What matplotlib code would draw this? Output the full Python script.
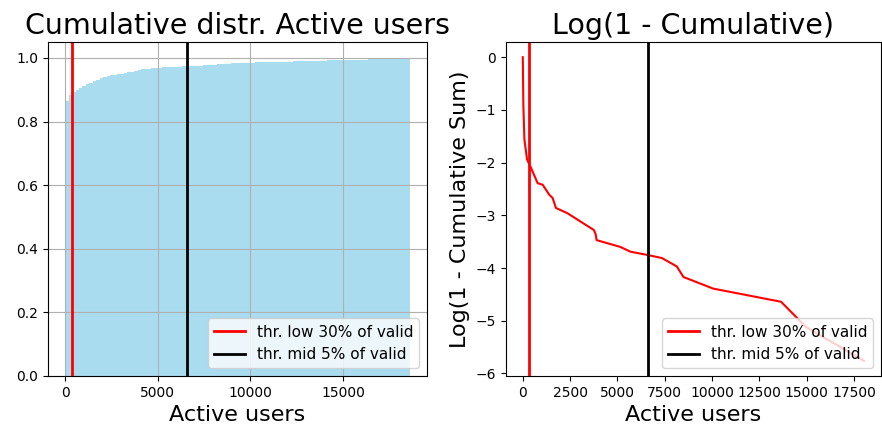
import numpy as np
import matplotlib
matplotlib.use("Agg")
import matplotlib.pyplot as plt
from matplotlib.ticker import MultipleLocator

# Cumulative share of entries per bin of active users (100 equal-width bins)
bin_width = 186
cum_share = [
    0.865, 0.882, 0.893, 0.900, 0.906, 0.912, 0.917, 0.922, 0.927, 0.932,
    0.936, 0.940, 0.943, 0.945, 0.947, 0.949, 0.951, 0.953, 0.955, 0.957,
    0.959, 0.963, 0.964, 0.965, 0.966, 0.967, 0.968, 0.969, 0.970, 0.971,
    0.972, 0.972, 0.973, 0.973, 0.974, 0.974, 0.975, 0.975, 0.976, 0.976,
    0.977, 0.977, 0.978, 0.979, 0.980, 0.981, 0.982, 0.982, 0.983, 0.983,
    0.984, 0.984, 0.985, 0.985, 0.985, 0.986, 0.986, 0.986, 0.987, 0.987,
    0.987, 0.987, 0.988, 0.988, 0.988, 0.988, 0.989, 0.989, 0.989, 0.989,
    0.990, 0.990, 0.990, 0.990, 0.991, 0.991, 0.992, 0.992, 0.993, 0.993,
    0.993, 0.994, 0.994, 0.994, 0.995, 0.995, 0.995, 0.995, 0.996, 0.996,
    0.996, 0.996, 0.997, 0.997, 0.997, 0.998, 0.998, 0.998, 0.999, 1.000,
]

# log(1 - cumulative sum) against active users
log_users = [0, 30, 85, 225, 435, 785, 1050, 1400, 1575, 1750, 2360, 3060,
             3760, 3850, 3900, 5160, 5690, 6560, 7350, 8140, 8490, 10060,
             13650, 14970, 18030]
log_tail = [0.0, -0.92, -1.56, -1.94, -2.10, -2.39, -2.42, -2.61, -2.67,
            -2.86, -2.96, -3.12, -3.28, -3.36, -3.47, -3.60, -3.69, -3.75,
            -3.81, -3.97, -4.17, -4.39, -4.64, -5.12, -5.76]

thr_low = 350
thr_mid = 6600
thr_labels = ["thr. low 30% of valid", "thr. mid 5% of valid"]

fig = plt.figure(figsize=(8.82, 4.30), dpi=100)
ax1 = fig.add_axes([0.0544, 0.1256, 0.4297, 0.7767])
ax2 = fig.add_axes([0.5734, 0.1256, 0.4255, 0.7767])

# Left: cumulative distribution histogram
edges = np.arange(len(cum_share)) * bin_width
ax1.bar(edges, cum_share, width=bin_width, align="edge",
        color="skyblue", alpha=0.7, linewidth=0)
ax1.axvline(thr_low, color="red", lw=2, label=thr_labels[0])
ax1.axvline(thr_mid, color="black", lw=2, label=thr_labels[1])
ax1.grid(True)
ax1.xaxis.set_major_locator(MultipleLocator(5000))
ax1.set_title("Cumulative distr. Active users", fontsize=20.5)
ax1.set_xlabel("Active users", fontsize=16)
ax1.legend(loc="lower right", fontsize=11)

# Right: log of the complementary cumulative sum
ax2.plot(log_users, log_tail, color="red", lw=1.5)
ax2.axvline(thr_low, color="red", lw=2, label=thr_labels[0])
ax2.axvline(thr_mid, color="black", lw=2, label=thr_labels[1])
ax2.xaxis.set_major_locator(MultipleLocator(2500))
ax2.set_title("Log(1 - Cumulative)", fontsize=20.5)
ax2.set_xlabel("Active users", fontsize=16)
ax2.set_ylabel("Log(1 - Cumulative Sum)", fontsize=16)
ax2.legend(loc="lower right", fontsize=11)

fig.savefig("out.png", dpi=100)
